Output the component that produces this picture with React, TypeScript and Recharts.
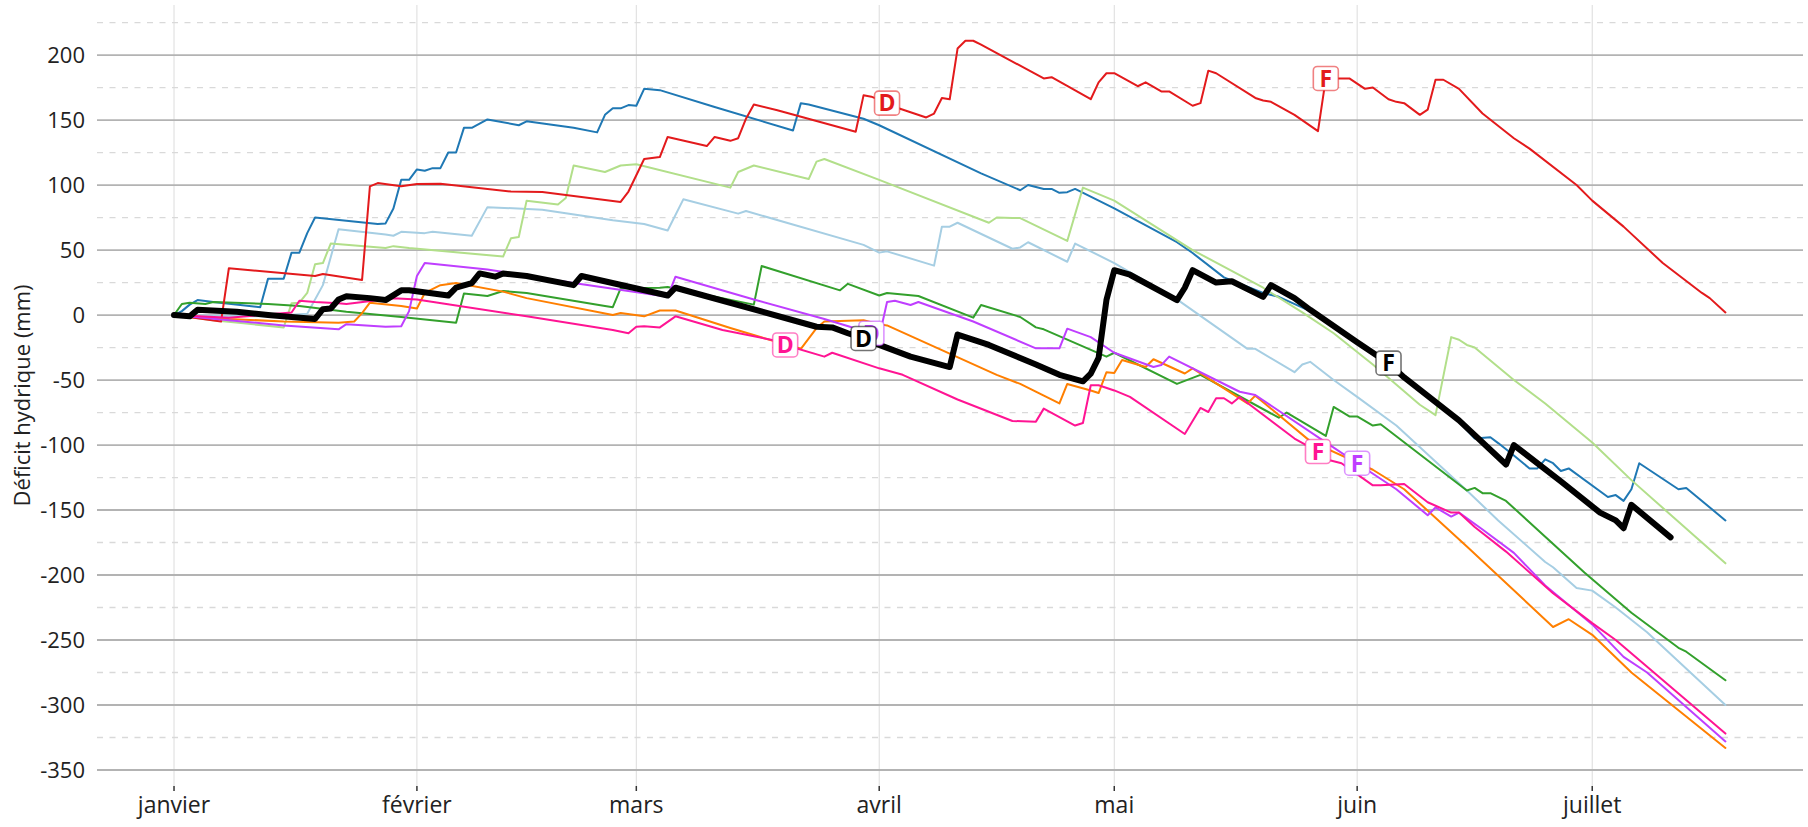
import React from 'react';
import { LineChart, Line, XAxis, YAxis, CartesianGrid, ReferenceDot } from 'recharts';

type Pt = [number, number];

const monthTicks = [0, 31, 59, 90, 120, 151, 181];
const monthLabels = ['janvier', 'février', 'mars', 'avril', 'mai', 'juin', 'juillet'];
const majorTicks = [-350, -300, -250, -200, -150, -100, -50, 0, 50, 100, 150, 200];
const minorTicks = [-325, -275, -225, -175, -125, -75, -25, 25, 75, 125, 175, 225];

const serieLightBlue: Pt[] = [
  [0, 0], [12, -1], [17, 1], [19, 23], [21, 66], [27, 62], [28, 61], [29, 64], [32, 63], [33, 64], [38, 61],
  [40, 83], [47, 81], [56, 73], [60, 70], [63, 65], [65, 89], [72, 78], [73, 80], [88, 54], [90, 48], [91, 49],
  [97, 38], [98, 68], [99, 68], [100, 71], [107, 51], [108, 52], [109, 56], [114, 41], [115, 55], [120, 40],
  [128, 12], [137, -26], [138, -26], [143, -44], [144, -38], [145, -36], [148, -50], [151, -63], [156, -85],
  [165, -135], [169, -158], [175, -190], [176, -194], [179, -210], [181, -212], [184, -225], [188, -244], [198, -300],
];

const serieBlue: Pt[] = [
  [0, 0], [1, 3], [2, 8], [3, 11.5], [5, 10], [11, 6], [12, 28], [14, 28], [15, 48], [16, 48], [17, 63], [18, 75],
  [26, 70], [27, 70.5], [28, 82], [29, 104], [30, 104], [31, 112], [32, 111], [33, 113], [34, 113], [35, 125],
  [36, 125], [37, 144], [38, 144], [40, 150.5], [44, 146], [45, 149], [51, 144], [54, 140.5], [55, 154], [56, 159],
  [57, 159], [58, 161.5], [59, 161], [60, 174], [62, 173], [69, 160], [79, 142], [80, 163], [81, 162], [88, 151],
  [90, 146], [103, 109], [108, 96], [109, 100], [111, 97], [112, 97], [113, 94], [114, 94.5], [115, 97], [120, 82],
  [128, 56], [130, 47.7], [134, 29], [139, 17], [141, 14], [145, 3], [151, -21], [155, -37], [157, -49], [164, -82],
  [166, -95], [168, -94], [169, -98.5], [171, -108], [173, -118], [174, -118], [175, -111], [176, -114], [177, -120],
  [178, -118], [183, -140], [184, -138.5], [185, -143], [186, -134], [187, -114], [192, -134], [193, -133], [198, -158],
];

const serieLightGreen: Pt[] = [
  [0, 0], [5, -4], [14, -9.5], [15, 9], [16, 9.5], [17, 17], [18, 39], [19, 40], [20, 55], [27, 51.5], [28, 53],
  [30, 51.5], [42, 45], [43, 59], [44, 60], [45, 88], [49, 85], [50, 90], [51, 115], [55, 110], [57, 115], [59, 116],
  [71, 98], [72, 110], [74, 115], [81, 104.6], [82, 118], [83, 120], [90, 104], [104, 71], [105, 75], [107, 74.6],
  [108, 74.6], [114, 57], [116, 98], [120, 88], [130, 50], [139, 21], [144, 2], [148, -14], [153, -38], [159, -69],
  [161, -77], [163, -17], [164, -19], [165, -23], [166, -25], [171, -50], [175, -68], [181, -98], [186, -127], [198, -191],
];

const serieGreen: Pt[] = [
  [0, 0], [1, 8.5], [2, 9.5], [4, 8.5], [5, 10], [12, 8.5], [16, 7], [22, 2.5], [29, -1.5], [36, -6], [37, 16.5],
  [40, 14.6], [42, 18.5], [45, 17], [55, 7], [56, 6], [57, 20.5], [62, 21], [63, 21.5], [74, 8], [75, 37.7], [85, 19],
  [86, 24], [90, 15], [91, 17], [95, 14.6], [102, -2], [103, 7.7], [108, -1.5], [110, -9.5], [111, -11], [119, -32],
  [120, -29], [128, -53], [131, -46], [141, -79], [142, -75], [147, -93], [148, -70.7], [150, -78], [151, -78],
  [153, -85], [154, -84], [165, -135], [166, -133], [167, -137], [168, -137], [170, -143], [180, -198], [186, -229],
  [192, -256], [193, -259], [198, -281],
];

const serieRed: Pt[] = [
  [0, 0], [6, -5], [7, 36], [18, 30], [19, 31.5], [24, 27], [25, 99], [26, 101.5], [29, 99], [31, 100.8], [34, 101],
  [43, 95], [47, 94.6], [57, 87], [58, 95], [60, 120], [62, 121.5], [63, 137], [68, 130], [69, 137], [71, 134],
  [72, 136], [73, 151], [74, 162], [77, 157.6], [87, 141], [88, 169], [89, 168], [91, 163], [92, 160], [96, 152],
  [97, 155], [98, 167], [99, 166], [100, 205], [101, 211], [102, 211], [103, 208], [111, 182], [112, 183], [117, 166],
  [118, 179], [119, 186], [120, 186], [123, 176], [124, 179], [126, 172], [127, 172], [130, 161], [131, 163],
  [132, 188], [133, 186], [138, 167], [139, 165], [140, 164], [143, 154], [146, 141.5], [147, 182], [149, 182],
  [150, 182], [152, 174], [153, 175], [155, 166], [156, 164], [157, 163], [159, 154], [160, 158], [161, 181],
  [162, 181], [164, 174], [167, 155], [171, 136], [173, 128], [179, 100], [181, 88], [185, 68], [190, 40], [195, 17],
  [196, 13], [198, 2],
];

const serieOrange: Pt[] = [
  [0, 0], [7, -3], [14, -5], [21, -6], [23, -5], [24, 1.5], [25, 9.5], [29, 7], [31, 5], [32, 17], [34, 23], [36, 24.6],
  [42, 18], [45, 13], [56, 0], [57, 1.5], [60, -1], [62, 3.5], [64, 3.5], [71, -10], [76, -19], [80, -26], [82, -10],
  [83, -5], [88, -4], [90, -7], [91, -8], [105, -46], [108, -53], [113, -68], [114, -53], [117, -58], [118, -60],
  [119, -44], [120, -44.6], [121, -34.6], [124, -40], [125, -34], [129, -45], [130, -41], [137, -68], [138, -62],
  [145, -97], [153, -119], [157, -134], [165, -178], [176, -240], [178, -234], [181, -246], [186, -275], [198, -333],
];

const seriePurple: Pt[] = [
  [0, 0], [7, -4], [14, -8], [21, -11], [22, -7], [27, -9], [29, -8.6], [30, 3], [31, 30], [32, 40], [40, 35],
  [51, 24.6], [63, 14], [64, 29.5], [74, 12], [83, -3], [89, -14], [90, -17], [91, 10], [92, 11], [94, 7.7], [95, 10],
  [102, -5], [110, -25.6], [113, -25.6], [114, -10.5], [117, -17], [120, -29], [125, -40], [126, -38.5], [127, -32],
  [136, -59], [138, -61.5], [147, -98], [151, -114], [156, -134], [160, -154], [161, -148], [163, -155], [164, -152],
  [167, -165], [171, -183], [175, -208], [181, -238], [185, -263], [188, -275], [198, -328],
];

const seriePink: Pt[] = [
  [0, 0], [7, -2], [15, 2], [16, 11], [18, 10], [21, 9], [22, 8.5], [28, 13], [31, 12], [45, -1], [56, -11.5],
  [58, -14], [59, -9], [60, -8.6], [62, -9.5], [64, -1], [70, -11.5], [77, -20], [78, -23], [83, -32], [84, -29],
  [90, -41], [93, -46], [100, -65], [107, -81.5], [110, -82], [111, -72], [115, -85], [116, -83], [117, -54],
  [118, -54], [120, -58], [122, -63], [129, -91.5], [131, -71.5], [132, -74.6], [133, -64], [134, -64], [135, -68],
  [136, -63], [143, -95], [146, -105], [147, -111], [149, -114], [153, -131], [154, -131], [157, -130], [160, -144],
  [163, -152], [164, -152], [166, -163], [170, -182], [176, -214], [181, -237], [184, -250], [198, -322],
];

const serieBlack: Pt[] = [
  [0, 0], [2, -1], [3, 4], [8, 2.5], [12, 0], [18, -3], [19, 4.5], [20, 5], [21, 12], [22, 14.5], [25, 13], [27, 11.5],
  [29, 19], [30, 19], [35, 15], [36, 21], [38, 24.5], [39, 32], [41, 29.5], [42, 32], [45, 30], [51, 23], [52, 30],
  [63, 15], [64, 21], [82, -9], [84, -9.5], [86, -14], [88, -18], [90, -23], [94, -32], [99, -40], [100, -15],
  [104, -23], [105, -25.5], [110, -38], [113, -46], [116, -51], [117, -45], [118, -33], [119, 11.5], [120, 34.5],
  [122, 31], [128, 11.5], [129, 21], [130, 34.5], [133, 25], [135, 26], [139, 14], [140, 23], [143, 13], [145, 4],
  [151, -21], [155, -37], [157, -48], [164, -81], [170, -115], [171, -100], [177, -128], [182, -152], [184, -158],
  [185, -164], [186, -146], [191, -171],
];

const labelsRed = [{ day: 91, text: 'D' }, { day: 147, text: 'F' }];
const labelsPink = [{ day: 78, text: 'D' }, { day: 146, text: 'F' }];
const labelsPurple = [{ day: 89, text: 'D' }, { day: 151, text: 'F' }];
const labelsBlack = [{ day: 88, text: 'D' }, { day: 155, text: 'F' }];

const FONT = '"Open Sans", "Noto Sans", sans-serif';

const seriesList = [
  { key: 'lightblue', color: '#A6CEE3', pts: serieLightBlue, width: 2 },
  { key: 'blue', color: '#1F78B4', pts: serieBlue, width: 2 },
  { key: 'lightgreen', color: '#B2DF8A', pts: serieLightGreen, width: 2 },
  { key: 'green', color: '#33A02C', pts: serieGreen, width: 2 },
  { key: 'red', color: '#E31A1C', pts: serieRed, width: 2 },
  { key: 'orange', color: '#FF7F00', pts: serieOrange, width: 2 },
  { key: 'purple', color: '#BF3EFF', pts: seriePurple, width: 2 },
  { key: 'pink', color: '#FF1493', pts: seriePink, width: 2 },
  { key: 'black', color: '#000000', pts: serieBlack, width: 6 },
];

const labelGroups = [
  { color: '#E31A1C', pts: serieRed, labels: labelsRed },
  { color: '#FF1493', pts: seriePink, labels: labelsPink },
  { color: '#BF3EFF', pts: seriePurple, labels: labelsPurple },
  { color: '#000000', pts: serieBlack, labels: labelsBlack },
];

const toRows = (pts: Pt[]) => pts.map(([day, v]) => ({ day, v }));

const valueAt = (pts: Pt[], day: number) => {
  const p = pts.find((q) => q[0] === day);
  return p ? p[1] : 0;
};

const LabelBox = (props: any) => {
  const { cx, cy, text, color } = props;
  if (cx == null || cy == null) return null;
  return (
    <g>
      <rect x={cx - 12.5} y={cy - 12} width={25} height={24} rx={4} ry={4} fill="#ffffff"
        stroke={color} strokeOpacity={0.55} strokeWidth={1.6} />
      <text x={cx} y={cy + 8.3} textAnchor="middle" fontSize={23} fontWeight={700}
        fill={color} fontFamily={FONT}>{text}</text>
    </g>
  );
};

const YTitle = (props: any) => {
  const vb = props.viewBox || { x: 0, y: 5, width: 97, height: 781 };
  const cx = 21;
  const cy = vb.y + vb.height / 2;
  return (
    <text x={cx} y={cy} transform={`rotate(-90 ${cx} ${cy})`} textAnchor="middle"
      dominantBaseline="central" fontSize={22} fill="#222" fontFamily={FONT}>
      Déficit hydrique (mm)
    </text>
  );
};

export default function App() {
  return (
    <div style={{ position: 'absolute', left: 0, top: 0, width: 1808, height: 827, background: '#fff' }}>
      <LineChart width={1808} height={827} margin={{ top: 5, right: 5, bottom: 0, left: 0 }}>
        <CartesianGrid horizontal={false} verticalValues={monthTicks} stroke="#dcdcdc" strokeWidth={1} />
        <CartesianGrid vertical={false} horizontalValues={minorTicks} stroke="#d9d9d9" strokeWidth={1.3} strokeDasharray="6 6.5" />
        <CartesianGrid vertical={false} horizontalValues={majorTicks} stroke="#b3b3b3" strokeWidth={1.8} />
        <XAxis
          type="number"
          dataKey="day"
          domain={[-9.83, 207.9]}
          allowDataOverflow
          ticks={monthTicks}
          interval={0}
          tickFormatter={(d: number) => monthLabels[monthTicks.indexOf(d)] ?? ''}
          axisLine={false}
          tickLine={{ stroke: '#333', strokeWidth: 1.5 }}
          tickSize={5}
          tickMargin={6}
          height={41}
          tick={{ fontSize: 23, fill: '#222', fontFamily: FONT }}
        />
        <YAxis
          type="number"
          domain={[-362.3, 238.5]}
          allowDataOverflow
          ticks={majorTicks}
          interval={0}
          axisLine={false}
          tickLine={false}
          tickSize={0}
          tickMargin={12}
          width={97}
          tick={{ fontSize: 22, fill: '#222', fontFamily: FONT }}
          label={{ content: (p: any) => <YTitle {...p} /> }}
        />
        {seriesList.map((s) => (
          <Line
            key={s.key}
            name={s.key}
            data={toRows(s.pts)}
            dataKey="v"
            type="linear"
            stroke={s.color}
            strokeWidth={s.width}
            strokeLinejoin="round"
            strokeLinecap="round"
            dot={false}
            activeDot={false}
            isAnimationActive={false}
          />
        ))}
        {labelGroups.flatMap((g, gi) =>
          g.labels.map((l, li) => (
            <ReferenceDot
              key={`lab-${gi}-${li}`}
              x={l.day}
              y={valueAt(g.pts, l.day)}
              r={1}
              shape={(p: any) => <LabelBox cx={p.cx} cy={p.cy} text={l.text} color={g.color} />}
            />
          ))
        )}
      </LineChart>
    </div>
  );
}
